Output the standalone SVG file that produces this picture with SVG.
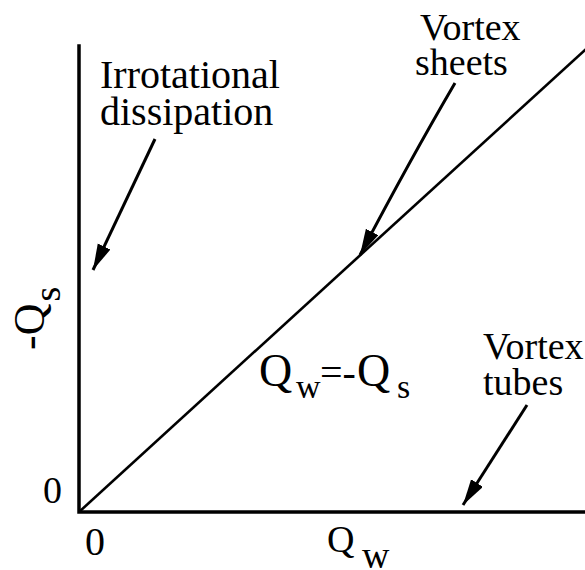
<svg xmlns="http://www.w3.org/2000/svg" width="585" height="570" viewBox="0 0 585 570">
<style>
.t{fill:#000;font-size:38px;font-family:Liberation Serif, Times New Roman, Times, serif}
.ax{stroke:#000;stroke-width:3.5;fill:none;stroke-linecap:square}
.ln{stroke:#000;stroke-width:2.6;fill:none}
.ar{stroke:#000;stroke-width:3;fill:none}
</style>
<defs>
<marker id="ah" markerUnits="userSpaceOnUse" markerWidth="30" markerHeight="20" refX="26" refY="7" orient="auto">
<path d="M0,0 L26,7 L0,14 Z" fill="#000"/>
</marker>
</defs>
<rect width="585" height="570" fill="#fff"/>
<g id="axes">
<path class="ax" d="M79,46 L79,512 L586,512"/>
</g>
<g id="diagonal">
<path class="ln" d="M79,512 L586,49"/>
</g>
<g id="connectors">
<path class="ar" d="M155,139 L93,270" marker-end="url(#ah)"/>
<path class="ar" d="M455,83 Q410,160 360,255" marker-end="url(#ah)"/>
<path class="ar" d="M527,405 L463,505" marker-end="url(#ah)"/>
</g>
<g id="irrotational">
<text class="t" x="100" y="88" style="font-size:40px">Irrotational</text>
<text class="t" x="100" y="125" style="font-size:40px">dissipation</text>
</g>
<g id="vortex-sheets">
<text class="t" x="420" y="40">Vortex</text>
<text class="t" x="415" y="75">sheets</text>
</g>
<g id="vortex-tubes">
<text class="t" x="483" y="359">Vortex</text>
<text class="t" x="483" y="395">tubes</text>
</g>
<g id="equation">
<text class="t" x="259" y="386" style="font-size:46px">Q<tspan x="296" y="398" style="font-size:34px">w</tspan><tspan x="320" y="386" style="font-size:40px">=-</tspan><tspan x="357" y="386">Q</tspan><tspan x="397" y="398" style="font-size:34px">s</tspan></text>
</g>
<g id="y-label">
<text class="t" transform="translate(44,350) rotate(-90)" style="font-size:44px">-Q<tspan dx="2" dy="16" style="font-size:38px">s</tspan></text>
</g>
<g id="ticks">
<text class="t" x="43" y="503">0</text>
<text class="t" x="85" y="555" style="font-size:40px">0</text>
</g>
<g id="x-label">
<text class="t" x="327" y="552">Q<tspan x="362" y="568">w</tspan></text>
</g>
</svg>
